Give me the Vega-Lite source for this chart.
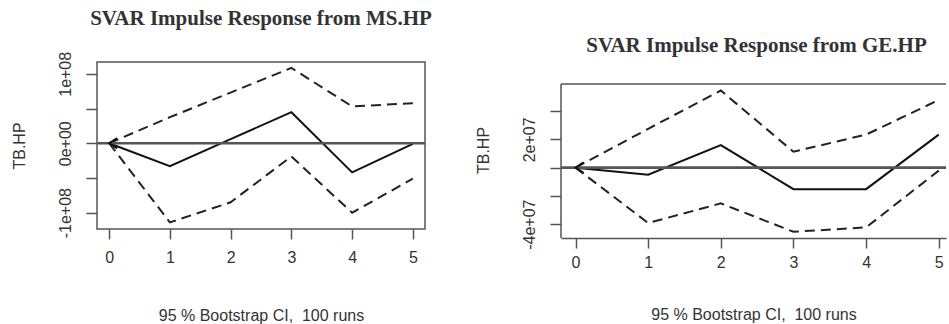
{
  "$schema": "https://vega.github.io/schema/vega-lite/v6.json",
  "background": "white",
  "padding": {"left": 10, "top": 7, "right": 0, "bottom": 0},
  "spacing": 42,
  "config": {
    "font": "Liberation Sans",
    "axis": {"labelFont": "Liberation Sans", "labelFontSize": 16, "labelColor": "#333", "titleFont": "Liberation Sans", "titleFontSize": 16, "titleFontWeight": "normal", "titleColor": "#333", "tickColor": "#555", "domainColor": "#555", "grid": false, "tickWidth": 1.5, "domainWidth": 1.5, "labelFlush": false, "labelOverlap": false},
    "title": {"font": "Liberation Serif", "fontSize": 21, "fontWeight": "bold", "color": "#333", "anchor": "middle"},
    "view": {"stroke": "#555", "strokeWidth": 1.5}
  },
  "datasets": {
    "ms": [
      {"h": 0, "irf": 0, "lower": 0, "upper": 0},
      {"h": 1, "irf": -33000000, "lower": -114000000, "upper": 37500000},
      {"h": 2, "irf": 6000000, "lower": -85000000, "upper": 73000000},
      {"h": 3, "irf": 44700000, "lower": -19000000, "upper": 108500000},
      {"h": 4, "irf": -42000000, "lower": -100000000, "upper": 53000000},
      {"h": 5, "irf": -1000000, "lower": -51000000, "upper": 57600000}
    ],
    "ge": [
      {"h": 0, "irf": 0, "lower": 0, "upper": 0},
      {"h": 1, "irf": -5000000, "lower": -39200000, "upper": 27500000},
      {"h": 2, "irf": 16000000, "lower": -25300000, "upper": 54600000},
      {"h": 3, "irf": -15200000, "lower": -45400000, "upper": 11300000},
      {"h": 4, "irf": -15200000, "lower": -42300000, "upper": 23400000},
      {"h": 5, "irf": 23400000, "lower": -2100000, "upper": 47900000}
    ]
  },
  "hconcat": [
    {
      "width": 328,
      "height": 167,
      "title": {"text": "SVAR Impulse Response from MS.HP", "offset": 22},
      "data": {"name": "ms"},
      "layer": [
        {
          "mark": {"type": "line", "color": "#111", "strokeWidth": 2},
          "encoding": {
            "x": {"field": "h", "type": "quantitative", "scale": {"domain": [-0.2, 5.2], "nice": false, "zero": false},
              "axis": {"values": [0, 1, 2, 3, 4, 5], "format": "d", "title": "95 % Bootstrap CI,\u00a0 100 runs", "domain": false, "tickSize": 10, "labelPadding": 10, "titlePadding": 42}},
            "y": {"field": "irf", "type": "quantitative", "scale": {"domain": [-123500000, 117000000], "nice": false, "zero": false},
              "axis": {"values": [-100000000, -50000000, 0, 50000000, 100000000], "labelExpr": "datum.value == 100000000 ? '1e+08' : datum.value == 0 ? '0e+00' : datum.value == -100000000 ? '-1e+08' : ''", "labelAngle": -90, "labelAlign": "center", "labelBaseline": "bottom", "tickSize": 11, "labelPadding": 13, "title": "TB.HP", "titlePadding": 30, "domain": false}}
          }
        },
        {
          "mark": {"type": "line", "color": "#222", "strokeWidth": 2, "strokeDash": [10, 6]},
          "encoding": {"x": {"field": "h", "type": "quantitative"}, "y": {"field": "upper", "type": "quantitative"}}
        },
        {
          "mark": {"type": "line", "color": "#222", "strokeWidth": 2, "strokeDash": [10, 6]},
          "encoding": {"x": {"field": "h", "type": "quantitative"}, "y": {"field": "lower", "type": "quantitative"}}
        },
        {
          "data": {"values": [{}]},
          "mark": {"type": "rule", "color": "#555", "strokeWidth": 2.7},
          "encoding": {"y": {"datum": 0, "type": "quantitative"}}
        },
        {
          "transform": [{"filter": "datum.h == 0"}],
          "mark": {"type": "point", "shape": "M1,-0.65L0,0L1,0.65", "filled": false, "stroke": "#111", "strokeWidth": 2, "size": 256, "opacity": 1},
          "encoding": {"x": {"field": "h", "type": "quantitative"}, "y": {"field": "irf", "type": "quantitative"}}
        }
      ]
    },
    {
      "width": 385,
      "height": 176,
      "view": {"stroke": null},
      "title": {"text": "SVAR Impulse Response from GE.HP", "offset": 6, "dx": 3},
      "data": {"name": "ge"},
      "layer": [
        {
          "mark": {"type": "line", "color": "#111", "strokeWidth": 2},
          "encoding": {
            "x": {"field": "h", "type": "quantitative", "scale": {"domain": [-0.2, 5.1], "nice": false, "zero": false},
              "axis": {"values": [0, 1, 2, 3, 4, 5], "format": "d", "title": "95 % Bootstrap CI,\u00a0 100 runs", "domain": true, "tickSize": 10, "labelPadding": 6, "titlePadding": 36}},
            "y": {"field": "irf", "type": "quantitative", "scale": {"domain": [-49800000, 74800000], "nice": false, "zero": false},
              "axis": {"values": [-40000000, -20000000, 0, 20000000, 40000000], "labelExpr": "datum.value == 20000000 ? '2e+07' : datum.value == -40000000 ? '-4e+07' : ''", "labelAngle": -90, "labelAlign": "center", "labelBaseline": "bottom", "tickSize": 11, "labelPadding": 13, "title": "TB.HP", "titlePadding": 30, "domain": false}}
          }
        },
        {
          "mark": {"type": "line", "color": "#222", "strokeWidth": 2, "strokeDash": [10, 6]},
          "encoding": {"x": {"field": "h", "type": "quantitative"}, "y": {"field": "upper", "type": "quantitative"}}
        },
        {
          "mark": {"type": "line", "color": "#222", "strokeWidth": 2, "strokeDash": [10, 6]},
          "encoding": {"x": {"field": "h", "type": "quantitative"}, "y": {"field": "lower", "type": "quantitative"}}
        },
        {
          "data": {"values": [{}]},
          "mark": {"type": "rule", "color": "#555", "strokeWidth": 2.7},
          "encoding": {"y": {"datum": 0, "type": "quantitative"}}
        },
        {
          "data": {"values": [{}]},
          "mark": {"type": "rule", "color": "#555", "strokeWidth": 1.5},
          "encoding": {"y": {"datum": 59300000, "type": "quantitative"}}
        },
        {
          "data": {"values": [{}]},
          "mark": {"type": "rule", "color": "#555", "strokeWidth": 1.5},
          "encoding": {"x": {"datum": -0.2, "type": "quantitative"}, "y": {"datum": -49800000, "type": "quantitative"}, "y2": {"datum": 59300000}}
        },
        {
          "transform": [{"filter": "datum.h == 0"}],
          "mark": {"type": "point", "shape": "M1,-0.65L0,0L1,0.65", "filled": false, "stroke": "#111", "strokeWidth": 2, "size": 256, "opacity": 1},
          "encoding": {"x": {"field": "h", "type": "quantitative"}, "y": {"field": "irf", "type": "quantitative"}}
        }
      ]
    }
  ]
}
